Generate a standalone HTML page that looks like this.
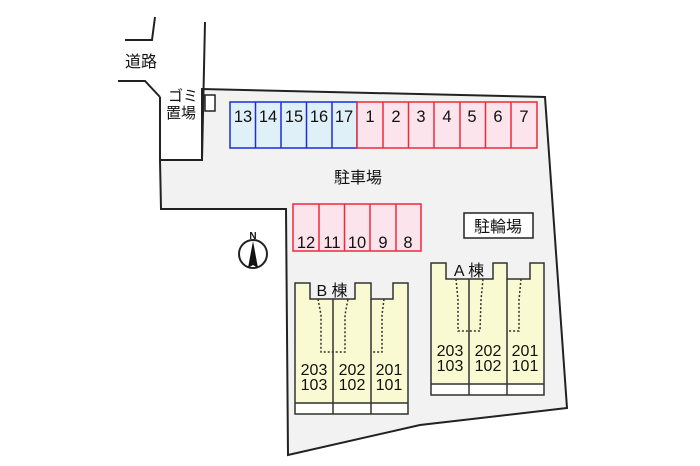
<!DOCTYPE html>
<html><head><meta charset="utf-8"><style>html,body{margin:0;padding:0;background:#fff}svg{display:block}</style></head><body>
<svg width="700" height="466" viewBox="0 0 700 466" xmlns="http://www.w3.org/2000/svg" font-family="Liberation Sans, Noto Sans CJK JP, sans-serif">
<polyline points="125,40 152,40 155,17" fill="none" stroke="#222" stroke-width="2"/>
<polyline points="118,81 145,81 160,97" fill="none" stroke="#222" stroke-width="2"/>
<path d="M160,160 L202,160 L202,89 L545,97 L567,408 L420,425 L288,455 L286,209 L161,209 Z" fill="#f2f2f2" stroke="#222" stroke-width="2"/>
<line x1="205" y1="22" x2="202" y2="160" stroke="#222" stroke-width="2"/>
<line x1="160" y1="97" x2="160" y2="160" stroke="#222" stroke-width="2"/>
<text x="141" y="67" font-size="16" text-anchor="middle" fill="#111">道路</text>
<text x="183" y="101" font-size="15" text-anchor="middle" fill="#111">ゴミ</text>
<text x="181" y="118" font-size="15" text-anchor="middle" fill="#111">置場</text>
<rect x="205" y="95" width="10" height="16" fill="#fff" stroke="#222" stroke-width="1.5"/>
<g stroke-width="1.5">
<rect x="230" y="102" width="127" height="46" fill="#dff0f8" stroke="#1a2ee0"/>
<line x1="255.5" y1="102" x2="255.5" y2="148" stroke="#1a2ee0"/>
<line x1="281" y1="102" x2="281" y2="148" stroke="#1a2ee0"/>
<line x1="306.5" y1="102" x2="306.5" y2="148" stroke="#1a2ee0"/>
<line x1="332" y1="102" x2="332" y2="148" stroke="#1a2ee0"/>
<rect x="357" y="102" width="180" height="46" fill="#fbe4ec" stroke="#f0283c"/>
<line x1="383" y1="102" x2="383" y2="148" stroke="#f0283c"/>
<line x1="408.5" y1="102" x2="408.5" y2="148" stroke="#f0283c"/>
<line x1="434" y1="102" x2="434" y2="148" stroke="#f0283c"/>
<line x1="460" y1="102" x2="460" y2="148" stroke="#f0283c"/>
<line x1="485.5" y1="102" x2="485.5" y2="148" stroke="#f0283c"/>
<line x1="511" y1="102" x2="511" y2="148" stroke="#f0283c"/>
<rect x="293" y="204" width="128" height="47" fill="#fbe4ec" stroke="#f0283c"/>
<line x1="319" y1="204" x2="319" y2="251" stroke="#f0283c"/>
<line x1="344.5" y1="204" x2="344.5" y2="251" stroke="#f0283c"/>
<line x1="370" y1="204" x2="370" y2="251" stroke="#f0283c"/>
<line x1="396" y1="204" x2="396" y2="251" stroke="#f0283c"/>
</g>
<g font-size="16.5" text-anchor="middle" fill="#111">
<text x="243" y="122">13</text><text x="268" y="122">14</text><text x="294" y="122">15</text><text x="319" y="122">16</text><text x="344" y="122">17</text>
<text x="370" y="122">1</text><text x="396" y="122">2</text><text x="421" y="122">3</text><text x="447" y="122">4</text><text x="472" y="122">5</text><text x="498" y="122">6</text><text x="524" y="122">7</text>
<text x="306" y="248">12</text><text x="332" y="248">11</text><text x="357" y="248">10</text><text x="383" y="248">9</text><text x="408" y="248">8</text>
</g>
<text x="358" y="183" font-size="16" text-anchor="middle" fill="#111">駐車場</text>
<rect x="464" y="213" width="69" height="25" fill="#fff" stroke="#222" stroke-width="1.5"/>
<text x="498" y="232" font-size="16" text-anchor="middle" fill="#111">駐輪場</text>
<circle cx="253" cy="254" r="14" fill="#fff" stroke="#222" stroke-width="2"/>
<polygon points="253,241 248,268 253,265 258,268" fill="#111"/>
<text x="253" y="239" font-size="10" text-anchor="middle" font-weight="bold" fill="#111">N</text>
<path d="M295,283 L310,283 L310,299 L355,299 L355,283 L371,283 L371,299 L393,299 L393,283 L408,283 L408,414 L295,414 Z" fill="#fafad2" stroke="#333" stroke-width="1.5"/>
<line x1="295" y1="403" x2="408" y2="403" stroke="#333" stroke-width="1.5"/>
<rect x="296" y="404" width="111" height="9" fill="#fff"/>
<line x1="333" y1="299" x2="333" y2="414" stroke="#333" stroke-width="1.5"/>
<line x1="371" y1="299" x2="371" y2="414" stroke="#333" stroke-width="1.5"/>
<text x="332" y="296" font-size="16" text-anchor="middle" fill="#111">B 棟</text>
<g fill="none" stroke="#333" stroke-width="1.5" stroke-dasharray="2,2">
<polyline points="318,299 321,315 321,352 345,352 345,315 348,299"/>
<polyline points="384,299 382,315 382,352 371,352"/>
</g>
<g font-size="16" text-anchor="middle" fill="#111">
<text x="314" y="375">203</text><text x="314" y="390">103</text>
<text x="352" y="375">202</text><text x="352" y="390">102</text>
<text x="389" y="375">201</text><text x="389" y="390">101</text>
</g>
<path d="M431,263 L446,263 L446,279 L493,279 L493,263 L507,263 L507,279 L530,279 L530,263 L544,263 L544,395 L431,395 Z" fill="#fafad2" stroke="#333" stroke-width="1.5"/>
<line x1="431" y1="384" x2="544" y2="384" stroke="#333" stroke-width="1.5"/>
<rect x="432" y="385" width="111" height="9" fill="#fff"/>
<line x1="469" y1="279" x2="469" y2="395" stroke="#333" stroke-width="1.5"/>
<line x1="507" y1="279" x2="507" y2="395" stroke="#333" stroke-width="1.5"/>
<text x="469" y="276" font-size="16" text-anchor="middle" fill="#111">A 棟</text>
<g fill="none" stroke="#333" stroke-width="1.5" stroke-dasharray="2,2">
<polyline points="456,279 458,300 458,331 480,331 481,300 483,279"/>
<polyline points="521,279 519,300 519,331 507,331"/>
</g>
<g font-size="16" text-anchor="middle" fill="#111">
<text x="450" y="356">203</text><text x="450" y="371">103</text>
<text x="488" y="356">202</text><text x="488" y="371">102</text>
<text x="525" y="356">201</text><text x="525" y="371">101</text>
</g>
</svg>
</body></html>
